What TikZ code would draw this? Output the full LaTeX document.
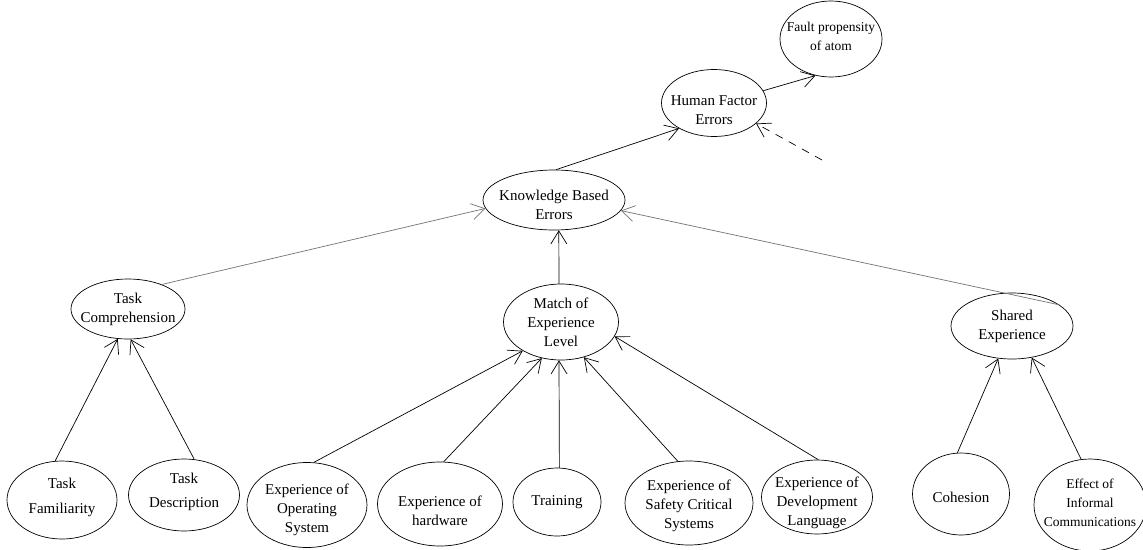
\documentclass[tikz,border=0pt]{standalone}
\usepackage{fontspec}
\setmainfont{Liberation Serif}
\usetikzlibrary{shapes.geometric,arrows.meta}

\tikzset{
  concept/.style={ellipse, draw=black, line width=0.7pt, inner sep=0pt},
  words/.style={align=center, inner sep=0pt, font=\fontsize{15}{19}\selectfont},
  link/.style={line width=0.7pt, -{Straight Barb[length=13pt,width=16pt,line width=0.7pt]}},
  faint/.style={link, draw=black!55},
  hint/.style={link, dash pattern=on 8pt off 7pt}
}

\begin{document}
\begin{tikzpicture}[x=1pt, y=-1pt]
\useasboundingbox (0,0) rectangle (1143,549);

% ---- ellipses ----
\node[concept, minimum width=102pt, minimum height=76pt] (fault) at (831,39)  {};
\node[concept, minimum width=105pt, minimum height=67pt] (hfe)   at (714,103) {};
\node[concept, minimum width=142pt, minimum height=60pt] (kbe)   at (554,200) {};
\node[concept, minimum width=114pt, minimum height=60pt] (tc)    at (128,309) {};
\node[concept, minimum width=115pt, minimum height=76pt] (match) at (561,322) {};
\node[concept, minimum width=122pt, minimum height=66pt] (se)    at (1012,326) {};
\node[concept, minimum width=110pt, minimum height=78pt] (tf)    at (62,500)  {};
\node[concept, minimum width=111pt, minimum height=72pt] (td)    at (184,495) {};
\node[concept, minimum width=120pt, minimum height=85pt] (eos)   at (307,505) {};
\node[concept, minimum width=125pt, minimum height=84pt] (ehw)   at (440,504) {};
\node[concept, minimum width=88pt,  minimum height=68pt] (trn)   at (557,502) {};
\node[concept, minimum width=128pt, minimum height=84pt] (esc)   at (689,503) {};
\node[concept, minimum width=111pt, minimum height=74pt] (edl)   at (817,497) {};
\node[concept, minimum width=97pt,  minimum height=82pt] (coh)   at (961,494) {};
\node[concept, minimum width=112pt, minimum height=92pt] (eff)   at (1090,505) {};

% ---- captions ----
\node[words, yshift=3pt, font=\fontsize{13.5}{19}\selectfont] (fault-t) at (fault) {Fault propensity\\of atom};
\node[words, yshift=-7pt] (hfe-t)   at (hfe)   {Human Factor\\Errors};
\node[words, yshift=-5pt] (kbe-t)   at (kbe)   {Knowledge Based\\Errors};
\node[words]              (tc-t)    at (tc)    {Task\\Comprehension};
\node[words]              (match-t) at (match) {Match of\\Experience\\Level};
\node[words]              (se-t)    at (se)    {Shared\\Experience};
\node[words, yshift=3pt]  (tf-t)    at (tf)    {Task\\[6pt]Familiarity};
\node[words, yshift=3pt]  (td-t)    at (td)    {Task\\[5pt]Description};
\node[words, yshift=-5pt] (eos-t)   at (eos)   {Experience of\\Operating\\System};
\node[words, yshift=-7pt] (ehw-t)   at (ehw)   {Experience of\\hardware};
\node[words]              (trn-t)   at (trn)   {Training};
\node[words, yshift=-3pt] (esc-t)   at (esc)   {Experience of\\Safety Critical\\Systems};
\node[words, yshift=-6pt] (edl-t)   at (edl)   {Experience of\\Development\\Language};
\node[words, yshift=-3pt] (coh-t)   at (coh)   {Cohesion};
\node[words, yshift=2pt, font=\fontsize{13.5}{19}\selectfont] (eff-t) at (eff) {Effect of\\Informal\\Communications};

% ---- loose end of the dashed influence ----
\coordinate (ext) at (822,160);

% ---- influences ----
\draw[link]  (hfe.14.9)   -- (fault.247.6);
\draw[link]  (kbe.86)     -- (hfe.216.3);
\draw[hint]  (ext)        -- (hfe.334.5);
\draw[faint] (tc.36.6)    -- (kbe.187.8);
\draw[link]  (match.93)   -- (kbe.279.5);
\draw[faint] (se.24.3)    -- (kbe.351.8);
\draw[link]  (tf.100.4)   -- (tc.251.6);
\draw[link]  (td.74.7)    -- (tc.275.7);
\draw[link]  (eos.81)     -- (match.217.4);
\draw[link]  (ehw.85.7)   -- (match.242.2);
\draw[link]  (trn.86.6)   -- (match.267.1);
\draw[link]  (esc.105)    -- (match.303.7);
\draw[link]  (edl.88.5)   -- (match.345);
\draw[link]  (coh.95.9)   -- (se.247.6);
\draw[link]  (eff.101.3)  -- (se.302);
\end{tikzpicture}
\end{document}
